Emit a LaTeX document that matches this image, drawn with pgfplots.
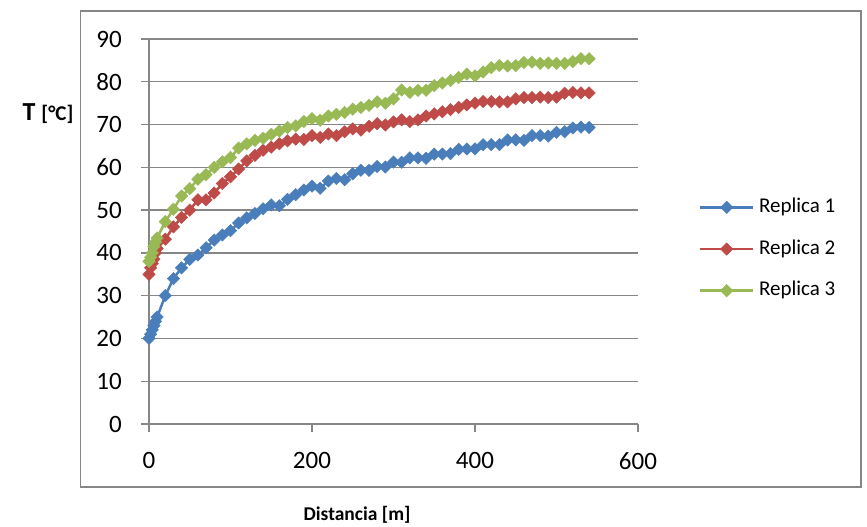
\documentclass[border=0pt]{standalone}
\usepackage{fontspec}
\setmainfont{Carlito}
\usepackage{pgfplots}
\pgfplotsset{compat=1.18}
\usepackage{pgfplotstable}
\definecolor{xlblue}{HTML}{4A7EBB}
\definecolor{xlred}{HTML}{BE4B48}
\definecolor{xlgreen}{HTML}{98B954}
\definecolor{xlgray}{HTML}{868686}

\pgfplotstableread{
x y
0 20
2 21
4 22
6 23
8 24
10 25
20 30
30 34
40 36.5
50 38.5
60 39.5
70 41.2
80 43
90 44.2
100 45.2
110 47
120 48.2
130 49.2
140 50.3
150 51.2
160 51
170 52.5
180 53.6
190 54.7
200 55.6
210 55.1
220 56.8
230 57.4
240 57.1
250 58.5
260 59.3
270 59.3
280 60.2
290 60.1
300 61.2
310 61.2
320 62.2
330 62.2
340 62.1
350 63.1
360 63.1
370 63.2
380 64.2
390 64.3
400 64.3
410 65.3
420 65.3
430 65.3
440 66.4
450 66.4
460 66.3
470 67.4
480 67.4
490 67.3
500 68.2
510 68.3
520 69.2
530 69.4
540 69.3
}\replicaone

\pgfplotstableread{
x y
0 35
2 36.5
4 37.5
6 38.5
8 40
10 41
20 43.2
30 46.1
40 48.3
50 50
60 52.4
70 52.4
80 54
90 56.2
100 57.8
110 59.6
120 61.5
130 62.8
140 64
150 64.7
160 65.5
170 66.2
180 66.6
190 66.5
200 67.4
210 67
220 67.8
230 67.4
240 68.3
250 69
260 68.7
270 69.6
280 70.2
290 69.9
300 70.6
310 71.1
320 70.7
330 71.1
340 72
350 72.5
360 73
370 73.5
380 74
390 74.6
400 75
410 75.4
420 75.4
430 75.3
440 75.3
450 76
460 76.3
470 76.3
480 76.4
490 76.3
500 76.4
510 77.3
520 77.5
530 77.4
540 77.4
}\replicatwo

\pgfplotstableread{
x y
0 38
2 39
4 40
6 41.5
8 42.5
10 43.5
20 47.3
30 50.2
40 53.3
50 55
60 57.2
70 58.3
80 60
90 61.3
100 62.3
110 64.5
120 65.5
130 66.3
140 66.8
150 67.7
160 68.5
170 69.3
180 69.7
190 70.7
200 71.4
210 71
220 72
230 72.4
240 72.8
250 73.6
260 74
270 74.5
280 75.3
290 75
300 76
310 78.1
320 77.5
330 78
340 78
350 79.1
360 79.7
370 80.3
380 81
390 81.8
400 81.4
410 82.3
420 83.3
430 83.8
440 83.7
450 83.8
460 84.5
470 84.6
480 84.3
490 84.4
500 84.3
510 84.3
520 84.7
530 85.4
540 85.4
}\replicathree

\begin{document}
\begin{tikzpicture}
\useasboundingbox (0,0) rectangle (867pt,527pt);
\fill[white] (0,0) rectangle (867pt,527pt);
\draw[xlgray, line width=1.3pt] (80.5pt,40pt) rectangle (861pt,516pt);
\begin{axis}[
  at={(149pt,103pt)}, anchor=south west,
  scale only axis, width=489pt, height=385pt,
  xmin=0, xmax=600, ymin=0, ymax=90,
  xtick={0,200,400,600}, ytick={0,10,...,90},
  axis x line*=bottom, axis y line*=left,
  axis line style={xlgray, line width=1.3pt},
  tick style={xlgray, line width=1.3pt},
  tick align=outside, major tick length=8pt,
  ymajorgrids, grid style={xlgray, line width=1.3pt},
  clip=false,
  /pgf/number format/assume math mode=true,
  ticklabel style={font=\fontsize{25}{30}\selectfont, inner sep=0pt},
  xticklabel style={anchor=north, yshift=-20pt},
  yticklabel style={anchor=east, xshift=-19pt},
  xlabel={\textbf{Distancia [m]}},
  xlabel style={font=\fontsize{19.5}{22}\selectfont, at={(rel axis cs:0.4254,-0.2364)}, anchor=center},
  ylabel={\textbf{\fontsize{26}{28}\selectfont T \fontsize{21}{22}\selectfont[°C]}},
  ylabel style={rotate=-90, at={(rel axis cs:-0.2065,0.805)}, anchor=center},
  legend style={draw=none, fill=none, inner sep=0pt, outer sep=0pt,
    at={(rel axis cs:1.1247,0.4545)}, anchor=west,
    font=\fontsize{21}{25}\selectfont, row sep=23.7pt, column sep=4.6pt,
    nodes={inner sep=0pt, text height=14pt, text depth=4pt}},
  legend cell align=left,
  legend image code/.code={\draw[mark repeat=2,mark phase=2,#1] plot coordinates {(0pt,0pt) (26.5pt,0pt) (53pt,0pt)};},
  every axis plot/.append style={line width=2.5pt, mark=square*, mark size=4.4pt},
]
\addplot[xlblue, mark options={rotate=45, fill=xlblue, line width=0.4pt}] table {\replicaone};
\addlegendentry{Replica 1}
\addplot[xlred, mark options={rotate=45, fill=xlred, line width=0.4pt}] table {\replicatwo};
\addlegendentry{Replica 2}
\addplot[xlgreen, mark options={rotate=45, fill=xlgreen, line width=0.4pt}] table {\replicathree};
\addlegendentry{Replica 3}
\end{axis}
\end{tikzpicture}
\end{document}
